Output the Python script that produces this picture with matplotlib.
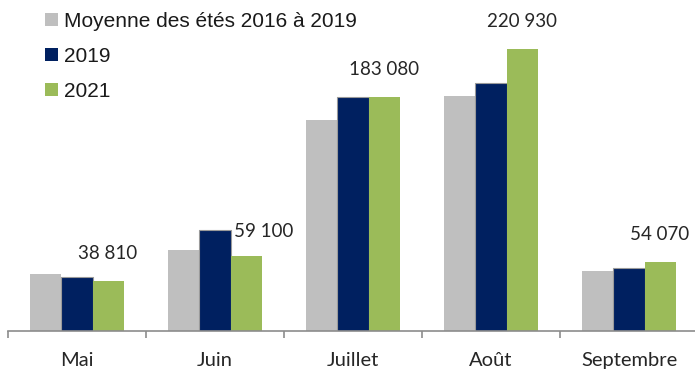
import numpy as np
import matplotlib.pyplot as plt

months = ["Mai", "Juin", "Juillet", "Août", "Septembre"]
series_names = ["Moyenne des étés 2016 à 2019", "2019", "2021"]
avg_2016_2019 = [44600, 63400, 165300, 184100, 47300]
vals_2019 = [42500, 79100, 183500, 194000, 49600]
vals_2021 = [38810, 59100, 183080, 220930, 54070]

colors = ["#BFBFBF", "#002060", "#9BBB59"]


def fmt(v):
    return f"{v:,}".replace(",", " ")


fig = plt.figure(figsize=(6.95, 3.73), dpi=100)
ax = fig.add_axes([8 / 695, 42 / 373, 690 / 695, 331 / 373])

x = np.arange(len(months))
w = 0.225
series = [avg_2016_2019, vals_2019, vals_2021]
for i, (vals, col) in enumerate(zip(series, colors)):
    edge = "#9A9A9A" if i == 1 else col
    ax.bar(x + (i - 1) * w, vals, width=w, color=col, edgecolor=edge,
           linewidth=0.8 if i == 1 else 0, label=series_names[i])

# data labels for 2021 (Juin nudged right to clear the 2019 bar)
for j, v in enumerate(vals_2021):
    dx = 13 if j == 1 else 0
    dy = 11 if j == 1 else 14
    ax.annotate(fmt(v), (x[j] + w, v), xytext=(dx, dy), textcoords="offset points",
                ha="center", va="bottom", fontsize=13.5, family="Lato", color="#262626")

ax.set_xlim(-0.5, 4.5)
ax.set_ylim(0, 259300)
ax.set_yticks([])
for s in ["top", "right", "left"]:
    ax.spines[s].set_visible(False)
ax.spines["bottom"].set_color("#8C8C8C")
ax.spines["bottom"].set_linewidth(1.2)

ax.set_xticks(np.arange(-0.5, 5.0, 1.0), minor=True)
ax.set_xticks(x)
ax.set_xticklabels(months, fontsize=14.5, family="Lato", color="#262626")
ax.tick_params(axis="x", which="major", length=0, pad=15)
ax.tick_params(axis="x", which="minor", length=5, width=1.2, color="#8C8C8C", direction="out")

leg = ax.legend(loc="upper left", bbox_to_anchor=(0.042, 0.99), frameon=False,
                prop={"family": "Liberation Sans", "size": 15},
                handlelength=0.6, handleheight=0.6, handletextpad=0.3,
                labelspacing=0.78, borderaxespad=0)
for t in leg.get_texts():
    t.set_color("#1A1A1A")
for h in leg.legend_handles:
    h.set_linewidth(0)

fig.savefig("out.png", dpi=100)
